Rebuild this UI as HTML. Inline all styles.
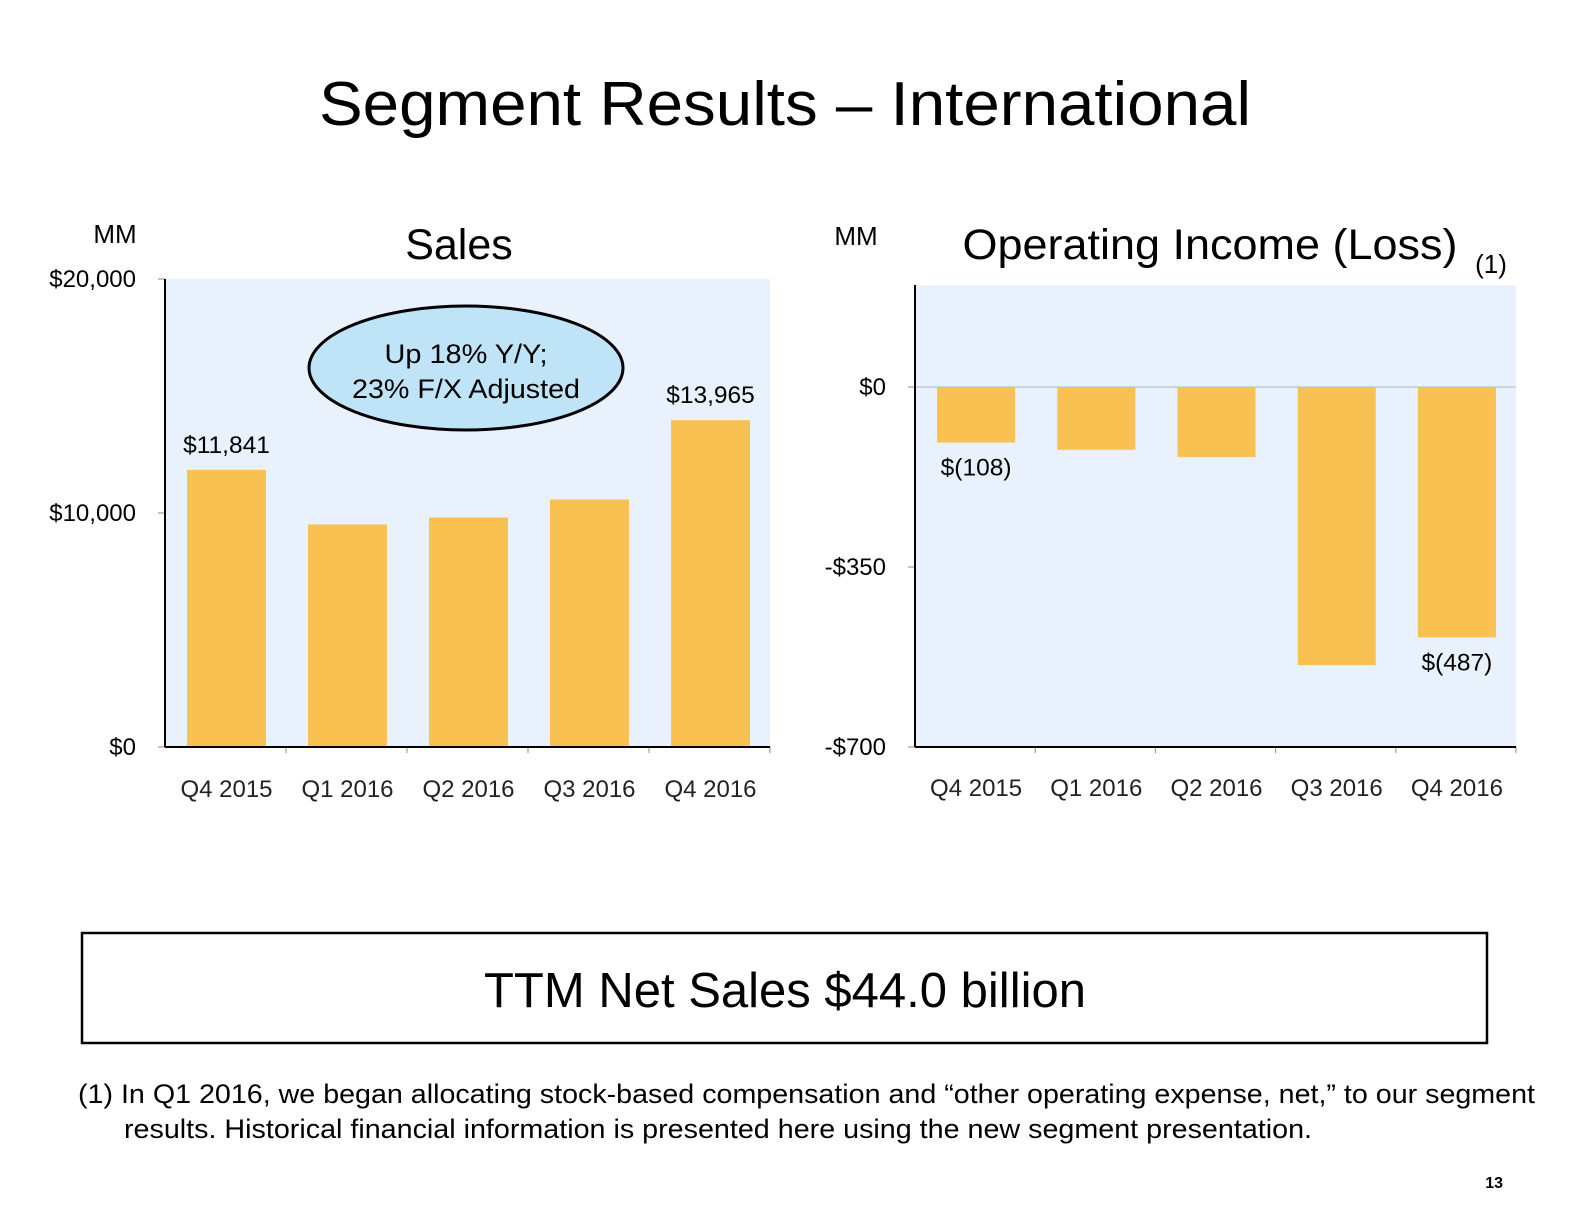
<!DOCTYPE html>
<html><head><meta charset="utf-8"><style>
html,body{margin:0;padding:0;background:#fff;}
body{width:1570px;height:1200px;position:relative;overflow:hidden;font-family:"Liberation Sans",Arial,sans-serif;}
</style></head><body>
<svg id="s" width="1570" height="1200" xmlns="http://www.w3.org/2000/svg" font-family="Liberation Sans, Arial, sans-serif">
<text x="785" y="125" font-size="62" text-anchor="middle" textLength="932" lengthAdjust="spacingAndGlyphs" fill="#000">Segment Results – International</text>
<text x="115" y="243" font-size="26" text-anchor="middle">MM</text>
<text x="459" y="259" font-size="43" text-anchor="middle">Sales</text>
<text x="856" y="245" font-size="26" text-anchor="middle">MM</text>
<text x="1210" y="259" font-size="43" text-anchor="middle" textLength="495" lengthAdjust="spacingAndGlyphs">Operating Income (Loss)</text>
<text x="1491" y="273" font-size="26" text-anchor="middle">(1)</text>
<g id="left"></g>
<g id="right"></g>
<rect x="82" y="933" width="1405" height="110" fill="#fff" stroke="#000" stroke-width="2.5"/>
<text x="785" y="1007" font-size="49" text-anchor="middle" textLength="602" lengthAdjust="spacingAndGlyphs">TTM Net Sales $44.0 billion</text>
<text x="78" y="1103" font-size="27" textLength="1457" lengthAdjust="spacingAndGlyphs">(1) In Q1 2016, we began allocating stock-based compensation and “other operating expense, net,” to our segment</text>
<text x="124" y="1138" font-size="27" textLength="1188" lengthAdjust="spacingAndGlyphs">results. Historical financial information is presented here using the new segment presentation.</text>
<text x="1503" y="1188" font-size="16" font-weight="bold" text-anchor="end">13</text>
</svg>
<script>
const categories = ["Q4 2015","Q1 2016","Q2 2016","Q3 2016","Q4 2016"];
const salesValues = [11841, 9510, 9808, 10575, 13965];
const salesTicks = [0, 10000, 20000];
const salesTickLabels = ["$0","$10,000","$20,000"];
const salesLabels = ["$11,841", null, null, null, "$13,965"];
const oiValues = [-108, -122, -136, -541, -487];
const oiTicks = [0, -350, -700];
const oiTickLabels = ["$0","-$350","-$700"];
const oiLabels = ["$(108)", null, null, null, "$(487)"];

const NS="http://www.w3.org/2000/svg";
function mk(parent,tag,attrs,text){const e=document.createElementNS(NS,tag);for(const k in attrs)e.setAttribute(k,attrs[k]);if(text!=null)e.textContent=text;parent.appendChild(e);return e;}

(function(){
 const g=document.getElementById('left');
 const x0=165,x1=770,yTop=279,yBot=747,vMax=20000;
 const y=v=>yBot-(v/vMax)*(yBot-yTop);
 const step=(x1-x0)/categories.length, bw=79;
 const xc=i=>x0+step*(i+0.5);
 const bg=mk(g,'rect',{x:x0,y:yTop,width:x1-x0,height:yBot-yTop,fill:'#e9f1fc'});
 
 
 salesValues.forEach((v,i)=>{
  const r=mk(g,'rect',{x:xc(i)-bw/2+1,y:y(v),width:bw,height:yBot-y(v),fill:'#f9c052'});
  
  
  if(salesLabels[i]){const t=mk(g,'text',{x:xc(i)+1,y:y(v)-17,'font-size':24.5,'text-anchor':'middle'},salesLabels[i]);
   
   }
  const c=mk(g,'text',{x:xc(i)+1,y:797,'font-size':24,'text-anchor':'middle',fill:'#222'},categories[i]);
  
  
  mk(g,'line',{x1:x0+step*(i+1),x2:x0+step*(i+1),y1:yBot,y2:yBot+6,stroke:'#888'});
 });
 salesTicks.forEach((v,i)=>{
  const t=mk(g,'text',{x:136,y:y(v)+8,'font-size':24,'text-anchor':'end'},salesTickLabels[i]);
  
  
  mk(g,'line',{x1:x0-7,x2:x0,y1:y(v),y2:y(v),stroke:'#888'});
 });
 mk(g,'line',{x1:x0,x2:x0,y1:yTop,y2:yBot,stroke:'#000','stroke-width':2});
 mk(g,'line',{x1:x0,x2:x1,y1:yBot,y2:yBot,stroke:'#000','stroke-width':2});
 const el=mk(g,'ellipse',{cx:466,cy:368,rx:157,ry:62,fill:'#bfe3f7',stroke:'#000','stroke-width':3});
 
 
 const a=mk(g,'text',{x:466,y:363,'font-size':27,'text-anchor':'middle',textLength:163,lengthAdjust:'spacingAndGlyphs'},'Up 18% Y/Y;');
 
 
 const b=mk(g,'text',{x:466,y:398,'font-size':27,'text-anchor':'middle',textLength:228,lengthAdjust:'spacingAndGlyphs'},'23% F/X Adjusted');
 
 
})();

(function(){
 const g=document.getElementById('right');
 const x0=915,x1=1516,yTop=285,yBot=747,yZero=387,vMin=-700;
 const y=v=>yZero+(v/vMin)*(yBot-yZero);
 const step=(x1-x0)/categories.length, bw=78;
 const xc=i=>x0+step*(i+0.5);
 const bg=mk(g,'rect',{x:x0,y:yTop,width:x1-x0,height:yBot-yTop,fill:'#e9f1fc'});
 
 
 mk(g,'line',{x1:x0,x2:x1,y1:y(0),y2:y(0),stroke:'#a9b9cc','stroke-width':1});
 oiValues.forEach((v,i)=>{
  const r=mk(g,'rect',{x:xc(i)-bw/2+1,y:y(0),width:bw,height:y(v)-y(0),fill:'#f9c052'});
  
  
  if(oiLabels[i]){const t=mk(g,'text',{x:xc(i)+1,y:y(v)+33,'font-size':24.5,'text-anchor':'middle'},oiLabels[i]);
   
   }
  const c=mk(g,'text',{x:xc(i)+1,y:796,'font-size':24,'text-anchor':'middle',fill:'#222'},categories[i]);
  
  
  mk(g,'line',{x1:x0+step*(i+1),x2:x0+step*(i+1),y1:yBot,y2:yBot+6,stroke:'#888'});
 });
 oiTicks.forEach((v,i)=>{
  const t=mk(g,'text',{x:886,y:y(v)+8,'font-size':24,'text-anchor':'end'},oiTickLabels[i]);
  
  
  mk(g,'line',{x1:x0-7,x2:x0,y1:y(v),y2:y(v),stroke:'#888'});
 });
 mk(g,'line',{x1:x0,x2:x0,y1:yTop,y2:yBot,stroke:'#000','stroke-width':2});
 mk(g,'line',{x1:x0,x2:x1,y1:yBot,y2:yBot,stroke:'#000','stroke-width':2});
})();
</script>
</body></html>
